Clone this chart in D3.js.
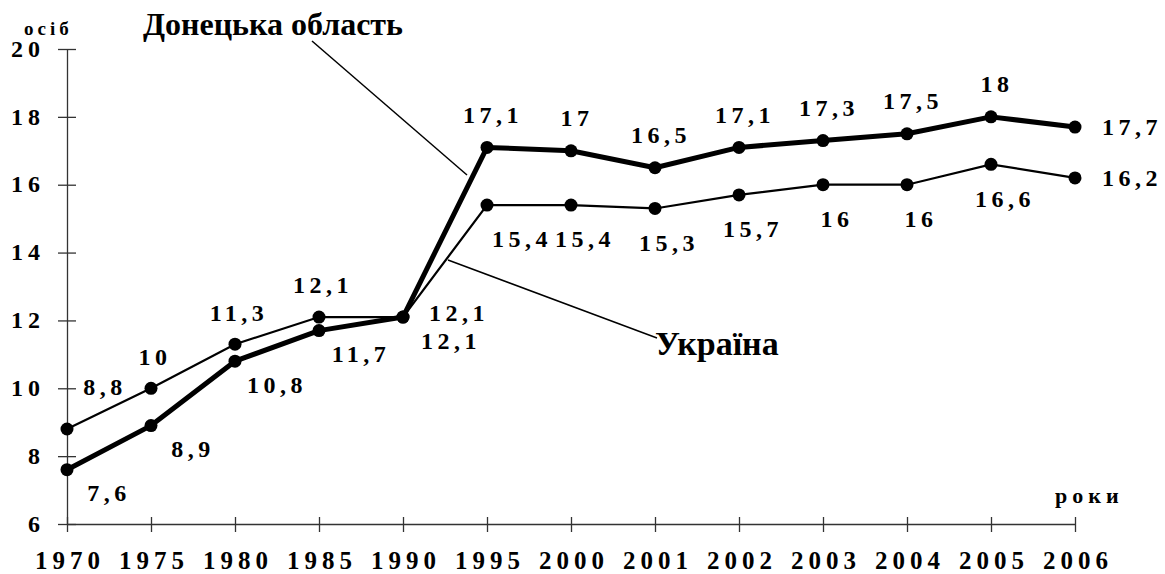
<!DOCTYPE html>
<html>
<head>
<meta charset="utf-8">
<script src="https://cdn.jsdelivr.net/npm/d3@7"></script>
<style>
  body { margin: 0; background: #fff; }
  svg { display: block; }
  text { font-family: "Liberation Serif", "Times New Roman", serif; font-weight: bold; fill: #000; }
</style>
</head>
<body>
<svg width="1165" height="574"></svg>
<script>
var years = ["1970", "1975", "1980", "1985", "1990", "1995", "2000", "2001", "2002", "2003", "2004", "2005", "2006"];
var donetsk = [7.6, 8.9, 10.8, 11.7, 12.1, 17.1, 17, 16.5, 17.1, 17.3, 17.5, 18, 17.7];
var ukraine = [8.8, 10, 11.3, 12.1, 12.1, 15.4, 15.4, 15.3, 15.7, 16, 16, 16.6, 16.2];
var yTicks = [6, 8, 10, 12, 14, 16, 18, 20];

var svg = d3.select("svg"),
    width = +svg.attr("width"),
    height = +svg.attr("height");

var x = d3.scalePoint().domain(years).range([67, 1075]);
var y = d3.scaleLinear().domain([6, 20]).range([524, 49]);

var axisColor = "#333";

// y axis
var gy = svg.append("g")
    .attr("transform", "translate(" + x(years[0]) + ",0)")
    .call(d3.axisLeft(y).tickValues(yTicks).tickSize(9).tickSizeOuter(0));
gy.select(".domain").attr("stroke", axisColor).attr("stroke-width", 1.3);
gy.selectAll(".tick line").attr("x1", -9).attr("x2", 9).attr("stroke", axisColor).attr("stroke-width", 1.3);
gy.selectAll(".tick text")
    .attr("x", -22)
    .attr("dy", "0.3em")
    .style("font-family", "Liberation Serif")
    .style("font-weight", "bold")
    .style("font-size", "24px")
    .style("letter-spacing", "5px")
    .attr("fill", "#000");

// x axis
var gx = svg.append("g")
    .attr("transform", "translate(0," + y(6) + ")")
    .call(d3.axisBottom(x).tickSize(7).tickSizeOuter(0));
gx.select(".domain").attr("stroke", axisColor).attr("stroke-width", 1.3);
gx.selectAll(".tick line").attr("y1", -7).attr("y2", 8).attr("stroke", axisColor).attr("stroke-width", 1.3);
gx.selectAll(".tick text")
    .attr("y", 45)
    .attr("dy", 0)
    .attr("dx", "2.5px")
    .style("font-family", "Liberation Serif")
    .style("font-weight", "bold")
    .style("font-size", "25px")
    .style("letter-spacing", "5px")
    .attr("fill", "#000");

// axis titles
svg.append("text")
    .attr("x", 24).attr("y", 35)
    .style("font-size", "19px")
    .style("letter-spacing", "4px")
    .text("осіб");

svg.append("text")
    .attr("x", 1055).attr("y", 503)
    .style("font-size", "22px")
    .style("letter-spacing", "5px")
    .text("роки");

// lines
var line = d3.line()
    .x(function (d, i) { return x(years[i]); })
    .y(function (d) { return y(d); });

svg.append("path")
    .datum(ukraine)
    .attr("fill", "none")
    .attr("stroke", "#000")
    .attr("stroke-width", 2.2)
    .attr("d", line);

svg.append("path")
    .datum(donetsk)
    .attr("fill", "none")
    .attr("stroke", "#000")
    .attr("stroke-width", 5)
    .attr("stroke-linejoin", "round")
    .attr("d", line);

[ukraine, donetsk].forEach(function (series) {
    svg.append("g")
        .selectAll("circle")
        .data(series)
        .enter().append("circle")
        .attr("cx", function (d, i) { return x(years[i]); })
        .attr("cy", function (d) { return y(d); })
        .attr("r", 6.5)
        .attr("fill", "#000");
});

// data labels
function fmt(v) { return String(v).replace(".", ","); }

function placeDonetsk(i) {
    var yr = +years[i];
    if (i == years.length - 1) return { dx: 27, dy: 0, anchor: "start" };
    if (yr == 1990) return { dx: 18, dy: 24, anchor: "start" };
    if (yr < 1990) return { dx: 40, dy: 23, anchor: "middle" };
    return { dx: 4, dy: -33, anchor: "middle" };
}

function placeUkraine(i) {
    var yr = +years[i];
    if (i == years.length - 1) return { dx: 27, dy: 0, anchor: "start" };
    if (yr == 1990) return { dx: 26, dy: -4, anchor: "start" };
    if (i == 0) return { dx: 36, dy: -42, anchor: "middle" };
    if (yr < 1990) return { dx: 2, dy: -32, anchor: "middle" };
    if (yr == 1995) return { dx: 33, dy: 34, anchor: "middle" };
    return { dx: 12, dy: 34, anchor: "middle" };
}

function drawLabels(series, place) {
    svg.append("g")
        .selectAll("text")
        .data(series)
        .enter().append("text")
        .each(function (d, i) {
            var p = place(i);
            d3.select(this)
                .attr("x", x(years[i]) + p.dx + (p.anchor == "middle" ? 2 : 0))
                .attr("y", y(d) + p.dy)
                .attr("dy", "0.35em")
                .attr("text-anchor", p.anchor);
        })
        .style("font-size", "24px")
        .style("letter-spacing", "4.5px")
        .text(function (d) { return fmt(d); });
}

drawLabels(ukraine, placeUkraine);
drawLabels(donetsk, placeDonetsk);

// series names with leader lines
svg.append("text")
    .attr("x", 143).attr("y", 35)
    .style("font-size", "32px")
    .text("Донецька область");

svg.append("line")
    .attr("x1", 312).attr("y1", 41)
    .attr("x2", 467).attr("y2", 175)
    .attr("stroke", "#000").attr("stroke-width", 1.5);

svg.append("text")
    .attr("x", 655).attr("y", 355)
    .style("font-size", "34px")
    .text("Україна");

svg.append("line")
    .attr("x1", 448).attr("y1", 260)
    .attr("x2", 657).attr("y2", 338)
    .attr("stroke", "#000").attr("stroke-width", 1.5);
</script>
</body>
</html>
